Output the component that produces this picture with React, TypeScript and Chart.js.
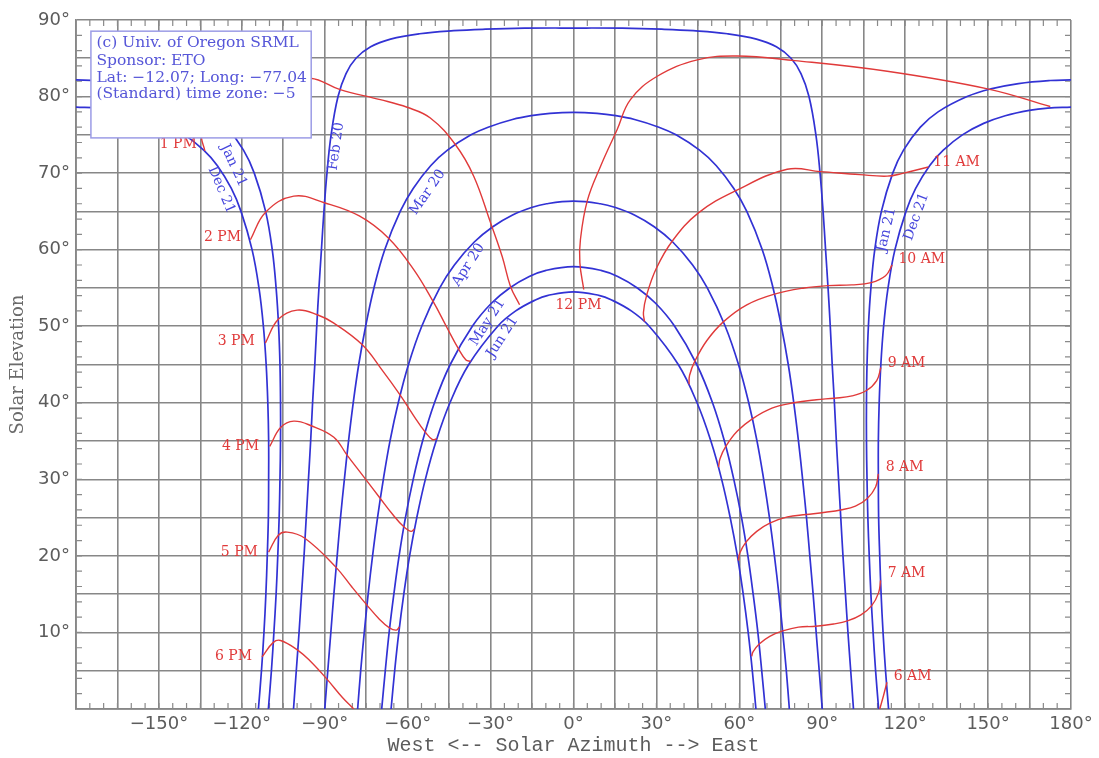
import React, { useEffect, useRef } from "react";
import { Chart, registerables } from "chart.js";
Chart.register(...registerables);

// ---------- axis ticks ----------
const AZ_LABELED = [-150, -120, -90, -60, -30, 0, 30, 60, 90, 120, 150, 180];
const EL_LABELED = [10, 20, 30, 40, 50, 60, 70, 80, 90];

// ---------- date curves (azimuth, elevation) ----------
const DEC21_E_AZ = [114.0, 112.9, 112.0, 111.3, 110.8, 110.4, 110.3, 110.3, 110.6, 111.2, 112.2, 113.8, 116.3, 120.3, 123.8, 128.9, 133.8, 140.7, 148.4, 156.2, 164.9, 171.6, 180];
const DEC21_E_EL = [0, 5, 10, 15, 20, 25, 30, 35, 40, 45, 50, 55, 60, 65, 68, 71, 73, 75, 76.5, 77.5, 78.2, 78.5, 78.63];
const DEC21_W_AZ = [-180, -171.6, -164.9, -156.2, -148.4, -140.7, -133.8, -128.9, -123.8, -120.3, -116.3, -113.8, -112.2, -111.2, -110.6, -110.3, -110.3, -110.4, -110.8, -111.3, -112.0, -112.9, -114.0];
const DEC21_W_EL = [78.63, 78.5, 78.2, 77.5, 76.5, 75, 73, 71, 68, 65, 60, 55, 50, 45, 40, 35, 30, 25, 20, 15, 10, 5, 0];

const JAN21_E_AZ = [110.4, 109.3, 108.4, 107.6, 107.0, 106.5, 106.2, 106.0, 106.0, 106.2, 106.7, 107.6, 109.0, 111.4, 115.5, 119.4, 125.5, 131.9, 142.4, 151.0, 161.0, 172.5, 180];
const JAN21_E_EL = [0, 5, 10, 15, 20, 25, 30, 35, 40, 45, 50, 55, 60, 65, 70, 73, 76, 78, 80, 81, 81.7, 82.1, 82.17];
const JAN21_W_AZ = [-180, -172.5, -161.0, -151.0, -142.4, -131.9, -125.5, -119.4, -115.5, -111.4, -109.0, -107.6, -106.7, -106.2, -106.0, -106.0, -106.2, -106.5, -107.0, -107.6, -108.4, -109.3, -110.4];
const JAN21_W_EL = [82.17, 82.1, 81.7, 81, 80, 78, 76, 73, 70, 65, 60, 55, 50, 45, 40, 35, 30, 25, 20, 15, 10, 5, 0];

const FEB20_AZ = [-101.3, -100.3, -99.3, -98.4, -97.5, -96.7, -95.9, -95.1, -94.4, -93.6, -92.9, -92.1, -91.2, -90.3, -89.2, -87.7, -85.2, -82.3, -78.7, -73.4, -66.2, -55.7, -43.4, -31.9, -17.7, 0,
  17.7, 31.9, 43.4, 55.7, 66.2, 73.4, 78.7, 82.3, 85.2, 87.7, 89.2, 90.3, 91.2, 92.1, 92.9, 93.6, 94.4, 95.1, 95.9, 96.7, 97.5, 98.4, 99.3, 100.3, 101.3];
const FEB20_EL = [0, 5, 10, 15, 20, 25, 30, 35, 40, 45, 50, 55, 60, 65, 70, 75, 80, 83, 85, 86.5, 87.5, 88.2, 88.6, 88.8, 88.93, 88.95,
  88.93, 88.8, 88.6, 88.2, 87.5, 86.5, 85, 83, 80, 75, 70, 65, 60, 55, 50, 45, 40, 35, 30, 25, 20, 15, 10, 5, 0];

const MAR20_AZ = [-90, -88.9, -87.8, -86.7, -85.5, -84.3, -82.9, -81.4, -79.7, -77.7, -75.2, -72.2, -68.3, -62.7, -58.0, -51.6, -45.6, -37.1, -30.9, -22.1, -15.3, -8.5, 0,
  8.5, 15.3, 22.1, 30.9, 37.1, 45.6, 51.6, 58.0, 62.7, 68.3, 72.2, 75.2, 77.7, 79.7, 81.4, 82.9, 84.3, 85.5, 86.7, 87.8, 88.9, 90];
const MAR20_EL = [0, 5, 10, 15, 20, 25, 30, 35, 40, 45, 50, 55, 60, 65, 68, 71, 73, 75, 76, 77, 77.5, 77.8, 77.93,
  77.8, 77.5, 77, 76, 75, 73, 71, 68, 65, 60, 55, 50, 45, 40, 35, 30, 25, 20, 15, 10, 5, 0];

const APR20_AZ = [-78.1, -77.0, -75.7, -74.3, -72.7, -70.9, -68.8, -66.4, -63.4, -59.7, -54.9, -48.4, -43.1, -35.9, -29.2, -22.2, -15.2, -9.7, 0,
  9.7, 15.2, 22.2, 29.2, 35.9, 43.1, 48.4, 54.9, 59.7, 63.4, 66.4, 68.8, 70.9, 72.7, 74.3, 75.7, 77.0, 78.1];
const APR20_EL = [0, 5, 10, 15, 20, 25, 30, 35, 40, 45, 50, 55, 58, 61, 63, 64.5, 65.5, 66.0, 66.33,
  66.0, 65.5, 64.5, 63, 61, 58, 55, 50, 45, 40, 35, 30, 25, 20, 15, 10, 5, 0];

const MAY21_AZ = [-69.4, -68.1, -66.7, -65.0, -63.1, -60.8, -58.0, -54.6, -50.3, -44.6, -36.6, -29.7, -23.1, -16.0, -9.9, 0,
  9.9, 16.0, 23.1, 29.7, 36.6, 44.6, 50.3, 54.6, 58.0, 60.8, 63.1, 65.0, 66.7, 68.1, 69.4];
const MAY21_EL = [0, 5, 10, 15, 20, 25, 30, 35, 40, 45, 50, 53, 55, 56.5, 57.3, 57.78,
  57.3, 56.5, 55, 53, 50, 45, 40, 35, 30, 25, 20, 15, 10, 5, 0];

const JUN21_AZ = [-66.0, -64.7, -63.2, -61.4, -59.3, -56.7, -53.6, -49.7, -44.7, -37.9, -27.4, -20.9, -13.4, -9.5, 0,
  9.5, 13.4, 20.9, 27.4, 37.9, 44.7, 49.7, 53.6, 56.7, 59.3, 61.4, 63.2, 64.7, 66.0];
const JUN21_EL = [0, 5, 10, 15, 20, 25, 30, 35, 40, 45, 50, 52, 53.5, 54.0, 54.49,
  54.0, 53.5, 52, 50, 45, 40, 35, 30, 25, 20, 15, 10, 5, 0];

// ---------- hour lines (Dec 21 -> Jun 21) ----------
const H06AM_AZ = [113.4, 112.2, 110.8];
const H06AM_EL = [3.5, 1.8, 0];
const H07AM_AZ = [111.1, 110.4, 107.9, 104.0, 99.1, 94.1, 87.7, 81.4, 75.7, 71.0, 67.2, 65.0, 64.5];
const H07AM_EL = [16.8, 15.2, 13.5, 12.3, 11.5, 11.1, 10.8, 10.7, 10.2, 9.5, 8.5, 7.5, 6.9];
const H08AM_AZ = [110.3, 109.3, 106.3, 102.0, 96.6, 91.1, 84.2, 77.4, 71.2, 66.3, 62.4, 60.2, 59.6];
const H08AM_EL = [30.7, 29.0, 27.5, 26.5, 26.0, 25.7, 25.4, 25.1, 24.3, 23.2, 21.8, 20.4, 19.4];
const H09AM_AZ = [111.2, 109.7, 106.0, 100.8, 94.4, 87.9, 79.7, 71.8, 64.7, 59.3, 55.1, 53.0, 52.5];
const H09AM_EL = [44.6, 42.9, 41.6, 40.9, 40.6, 40.4, 40.0, 39.3, 37.9, 36.3, 34.3, 32.7, 31.6];
const H10AM_AZ = [115.3, 112.9, 107.7, 100.7, 92.1, 83.5, 72.7, 62.7, 54.3, 48.2, 44.0, 42.0, 41.8];
const H10AM_EL = [58.0, 56.6, 55.7, 55.4, 55.3, 55.0, 54.2, 52.8, 50.6, 48.1, 45.5, 43.6, 42.4];
const H11AM_AZ = [128.4, 119.5, 113.5, 103.6, 89.4, 77.3, 58.7, 45.2, 35.7, 29.9, 26.5, 25.3, 25.7];
const H11AM_EL = [70.8, 70.0, 69.6, 69.8, 70.2, 70.5, 67.7, 64.8, 61.1, 57.5, 54.1, 51.8, 50.6];
const H12PM_AZ = [172.5, 149.8, 113.5, 80.0, 59.2, 44.8, 30.3, 20.6, 15.8, 9.8, 5.0, 2.5, 2.3, 3.7];
const H12PM_EL = [78.7, 81.0, 83.3, 84.7, 85.3, 84.8, 82.65, 79.6, 75.7, 70.9, 66.4, 61.3, 58.3, 54.8];
const H01PM_AZ = [-133.4, -134.5, -129.5, -112.0, -95.2, -84.4, -69.9, -60.2, -51.8, -42.7, -36.1, -30.0, -25.8, -22.8, -19.5];
const H01PM_EL = [72.9, 75.2, 78.2, 81.8, 82.4, 80.9, 79.6, 78.6, 77.2, 73.7, 69.6, 63.5, 59.1, 55.2, 52.8];
const H02PM_AZ = [-116.9, -111.4, -101.2, -89.9, -77.5, -66.9, -57.8, -50.9, -45.9, -41.7, -38.9, -37.2];
const H02PM_EL = [61.3, 64.9, 67.0, 66.1, 64.4, 61.5, 57.4, 53.3, 49.9, 47.1, 45.6, 45.4];
const H03PM_AZ = [-111.5, -106.8, -100.0, -92.7, -86.7, -76.5, -69.1, -62.7, -57.8, -53.7, -51.0, -49.5];
const H03PM_EL = [47.8, 50.9, 52.1, 51.5, 50.4, 47.6, 44.2, 41.0, 38.3, 36.2, 35.2, 35.3];
const H04PM_AZ = [-109.9, -105.9, -101.2, -94.9, -86.7, -82.0, -75.6, -69.9, -65.4, -61.4, -58.8, -57.6];
const H04PM_EL = [34.3, 36.8, 37.6, 37.0, 35.5, 33.2, 30.2, 27.5, 25.4, 23.8, 23.2, 23.5];
const H05PM_AZ = [-110.3, -106.8, -103.6, -97.2, -85.9, -80.1, -74.8, -70.4, -66.6, -64.1, -63.0];
const H05PM_EL = [20.5, 22.7, 23.1, 22.3, 18.5, 15.9, 13.6, 11.8, 10.6, 10.3, 10.7];
const H06PM_AZ = [-112.7, -108.6, -106.0, -99.8, -95.1, -89.2, -83.6, -79.5];
const H06PM_EL = [6.8, 8.7, 8.95, 7.7, 6.2, 3.9, 1.5, 0];

// ---------- annotation texts ----------
const HOUR_LABELS = ["1 PM", "2 PM", "3 PM", "4 PM", "5 PM", "6 PM", "12 PM", "11 AM", "10 AM", "9 AM", "8 AM", "7 AM", "6 AM"];
const HOUR_LABEL_AZ = [-143.0, -127.0, -122.0, -120.5, -120.9, -123.0, 1.8, 138.6, 126.0, 120.5, 119.8, 120.5, 122.7];
const HOUR_LABEL_EL = [73.7, 61.6, 48.0, 34.3, 20.5, 6.9, 52.7, 71.4, 58.7, 45.2, 31.5, 17.7, 4.2];

const DATE_LABELS = ["Dec 21", "Jan 21", "Feb 20", "Mar 20", "Apr 20", "May 21", "Jun 21", "Jan 21", "Dec 21"];
const DATE_LABEL_AZ = [-127.4, -123.0, -85.8, -52.8, -38.0, -31.1, -25.7, 113.3, 124.1];
const DATE_LABEL_EL = [67.8, 71.0, 73.5, 67.5, 58.0, 50.5, 48.6, 62.6, 64.3];
const DATE_LABEL_ROT = [67, 65, -82, -55, -57, -57, -57, -77, -70];

const BOX_LINES = ["(c) Univ. of Oregon SRML", "Sponsor: ETO", "Lat: \u221212.07; Long: \u221277.04", "(Standard) time zone: \u22125"];

const BLUE = "#3232d4";
const RED = "#e03a3a";

function pts(az: number[], el: number[]) {
  return az.map((a, i) => ({ x: a, y: el[i] }));
}

const BLUE_CURVES: [number[], number[]][] = [
  [DEC21_E_AZ, DEC21_E_EL], [DEC21_W_AZ, DEC21_W_EL],
  [JAN21_E_AZ, JAN21_E_EL], [JAN21_W_AZ, JAN21_W_EL],
  [FEB20_AZ, FEB20_EL], [MAR20_AZ, MAR20_EL], [APR20_AZ, APR20_EL],
  [MAY21_AZ, MAY21_EL], [JUN21_AZ, JUN21_EL],
];
const RED_CURVES: [number[], number[]][] = [
  [H06AM_AZ, H06AM_EL], [H07AM_AZ, H07AM_EL], [H08AM_AZ, H08AM_EL], [H09AM_AZ, H09AM_EL],
  [H10AM_AZ, H10AM_EL], [H11AM_AZ, H11AM_EL], [H12PM_AZ, H12PM_EL], [H01PM_AZ, H01PM_EL],
  [H02PM_AZ, H02PM_EL], [H03PM_AZ, H03PM_EL], [H04PM_AZ, H04PM_EL], [H05PM_AZ, H05PM_EL],
  [H06PM_AZ, H06PM_EL],
];

const fmtAz = (v: number) => (v < 0 ? "\u2212" + Math.abs(v) : String(v)) + "\u00B0";

const annotPlugin = {
  id: "annot",
  beforeDatasetsDraw(chart: any) {
    const { ctx, chartArea: ca, scales } = chart;
    const xs = scales.x, ys = scales.y;
    ctx.save();
    ctx.strokeStyle = "#8a8a8a";
    ctx.lineWidth = 1.2;
    ctx.beginPath();
    for (let v = -175; v < 180; v += 5) {
      const px = xs.getPixelForValue(v);
      ctx.moveTo(px, ca.bottom); ctx.lineTo(px, ca.bottom - 6);
      ctx.moveTo(px, ca.top); ctx.lineTo(px, ca.top + 6);
    }
    for (let v = 2; v < 90; v += 2) {
      const py = ys.getPixelForValue(v);
      ctx.moveTo(ca.left, py); ctx.lineTo(ca.left + 6, py);
      ctx.moveTo(ca.right, py); ctx.lineTo(ca.right - 6, py);
    }
    ctx.stroke();
    ctx.restore();
  },
  afterDatasetsDraw(chart: any) {
    const { ctx, scales } = chart;
    const xs = scales.x, ys = scales.y;
    ctx.save();
    // hour labels
    ctx.font = "14px 'DejaVu Serif'";
    ctx.fillStyle = RED;
    ctx.textAlign = "center";
    ctx.textBaseline = "middle";
    HOUR_LABELS.forEach((t, i) => {
      ctx.fillText(t, xs.getPixelForValue(HOUR_LABEL_AZ[i]), ys.getPixelForValue(HOUR_LABEL_EL[i]));
    });
    // date labels
    ctx.fillStyle = "#4646dc";
    DATE_LABELS.forEach((t, i) => {
      ctx.save();
      ctx.translate(xs.getPixelForValue(DATE_LABEL_AZ[i]), ys.getPixelForValue(DATE_LABEL_EL[i]));
      ctx.rotate((DATE_LABEL_ROT[i] * Math.PI) / 180);
      ctx.fillText(t, 0, 0);
      ctx.restore();
    });
    // info box
    const bx0 = xs.getPixelForValue(-174.6), by0 = ys.getPixelForValue(88.54);
    const bx1 = xs.getPixelForValue(-94.9), by1 = ys.getPixelForValue(74.6);
    ctx.fillStyle = "#ffffff";
    ctx.fillRect(bx0, by0, bx1 - bx0, by1 - by0);
    ctx.strokeStyle = "#9c9ce6";
    ctx.lineWidth = 1.5;
    ctx.strokeRect(bx0, by0, bx1 - bx0, by1 - by0);
    ctx.fillStyle = "#5656d8";
    ctx.font = "15.5px 'DejaVu Serif'";
    ctx.textAlign = "left";
    const lineEl = [87.0, 84.7, 82.45, 80.35];
    BOX_LINES.forEach((t, i) => {
      ctx.fillText(t, bx0 + 5.5, ys.getPixelForValue(lineEl[i]));
    });
    ctx.restore();
  },
};

export default function App() {
  const ref = useRef<HTMLCanvasElement | null>(null);
  useEffect(() => {
    document.body.style.margin = "0";
    const canvas = ref.current;
    if (!canvas) return;
    const datasets: any[] = [];
    RED_CURVES.forEach(([a, e]) =>
      datasets.push({ data: pts(a, e), showLine: true, borderColor: RED, borderWidth: 1.4, pointRadius: 0, tension: 0.4, fill: false })
    );
    BLUE_CURVES.forEach(([a, e]) =>
      datasets.push({ data: pts(a, e), showLine: true, borderColor: BLUE, borderWidth: 1.7, pointRadius: 0, tension: 0.4, fill: false })
    );
    const gridCol = "#878787";
    const chart = new Chart(canvas, {
      type: "scatter",
      data: { datasets },
      plugins: [annotPlugin],
      options: {
        animation: false,
        responsive: false,
        devicePixelRatio: 1,
        layout: { padding: { left: 0, right: 28, top: 20, bottom: 0 } },
        plugins: { legend: { display: false }, tooltip: { enabled: false } },
        scales: {
          x: {
            type: "linear", min: -180, max: 180, position: "bottom",
            afterFit: (s: any) => { s.height = 49; },
            ticks: {
              stepSize: 15, autoSkip: false, maxRotation: 0, minRotation: 0, padding: 5,
              color: "#5c5c5c", font: { family: "'DejaVu Sans'", size: 18 },
              callback: (v: any) => (AZ_LABELED.includes(Number(v)) ? fmtAz(Number(v)) : ""),
            },
            grid: { color: gridCol, lineWidth: 1.6, drawTicks: false },
            border: { display: true, color: "#878787", width: 1.8 },
            title: { display: true, text: "West <-- Solar Azimuth --> East", color: "#5c5c5c", font: { family: "'Liberation Mono'", size: 20 }, padding: { top: 0, bottom: 0 } },
          },
          y: {
            type: "linear", min: 0, max: 90, position: "left",
            afterFit: (s: any) => { s.width = 76; },
            ticks: {
              stepSize: 5, autoSkip: false, padding: 6,
              color: "#5c5c5c", font: { family: "'DejaVu Sans'", size: 18 },
              callback: (v: any) => (EL_LABELED.includes(Number(v)) ? Number(v) + "\u00B0" : ""),
            },
            grid: { color: gridCol, lineWidth: 1.6, drawTicks: false },
            border: { display: true, color: "#878787", width: 1.8 },
            title: { display: true, text: "Solar Elevation", color: "#6a6a6a", font: { family: "'DejaVu Serif'", size: 18 }, padding: { top: 8, bottom: 0 } },
          },
        },
      } as any,
    });
    return () => chart.destroy();
  }, []);
  return (
    <div style={{ position: "absolute", left: 0, top: 0, width: 1099, height: 758, background: "#fff" }}>
      <canvas ref={ref} width={1099} height={758} style={{ display: "block" }} />
    </div>
  );
}
